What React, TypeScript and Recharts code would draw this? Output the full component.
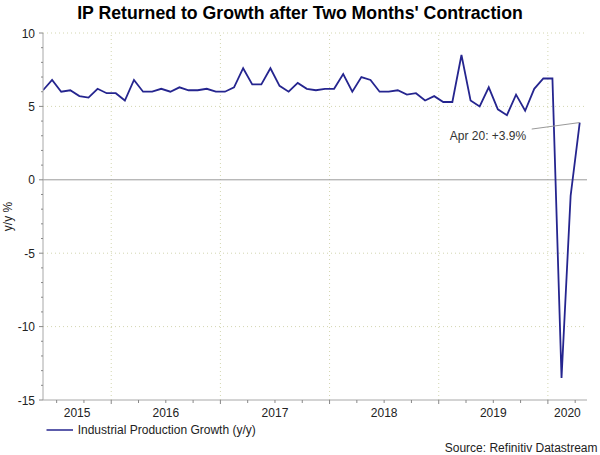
import React from 'react';
import { LineChart, Line, XAxis, YAxis, ReferenceLine, ReferenceDot } from 'recharts';

const FONT = '"Liberation Sans", Arial, sans-serif';
const LINE_COLOR = '#25258f';
const GRID_COLOR = '#d3d6b0';
const AXIS_COLOR = '#a8a8a8';

// China industrial production, y/y %, monthly from May 2015 to Apr 2020
const firstYear = 2015;
const firstMonth = 5;
const growth = [
  6.1, 6.8, 6.0, 6.1, 5.7, 5.6, 6.2, 5.9,
  5.9, 5.4, 6.8, 6.0, 6.0, 6.2, 6.0, 6.3, 6.1, 6.1, 6.2, 6.0,
  6.0, 6.3, 7.6, 6.5, 6.5, 7.6, 6.4, 6.0, 6.6, 6.2, 6.1, 6.2,
  6.2, 7.2, 6.0, 7.0, 6.8, 6.0, 6.0, 6.1, 5.8, 5.9, 5.4, 5.7,
  5.3, 5.3, 8.5, 5.4, 5.0, 6.3, 4.8, 4.4, 5.8, 4.7, 6.2, 6.9,
  6.9, -13.5, -1.1, 3.9,
];
const years = [2015, 2016, 2017, 2018, 2019, 2020];
const yTicks = [-15, -10, -5, 0, 5, 10];
const yMinor = [-15, -14, -13, -12, -11, -10, -9, -8, -7, -6, -5, -4, -3, -2, -1, 0, 1, 2, 3, 4, 5, 6, 7, 8, 9, 10];
const quarterMonths = [1, 4, 7, 10];
const lastLabel = 'Apr 20';

const data = growth.map((v, i) => ({ i, v }));
const xMax = 59.8;

const monthPos = (y: number, m: number) => 12 * (y - firstYear) + (m - firstMonth) - 0.5;

const quarterTicks: number[] = [];
years.forEach((y) =>
  quarterMonths.forEach((m) => {
    const p = monthPos(y, m);
    if (p > 0 && p < xMax) quarterTicks.push(p);
  })
);
const yearStarts = years.map((y) => monthPos(y, 1)).filter((p) => p > 0 && p < xMax);
const yearCenters = new Map<number, string>();
years.forEach((y) => {
  const a = Math.max(0, monthPos(y, 1));
  const b = Math.min(xMax, monthPos(y + 1, 1));
  yearCenters.set((a + b) / 2, String(y));
});
const xTicks = Array.from(new Set([...quarterTicks, ...Array.from(yearCenters.keys())])).sort((a, b) => a - b);

const XTick = (props: any) => {
  const { x, y, payload } = props;
  const label = yearCenters.get(payload.value);
  const isQuarter = quarterTicks.includes(payload.value);
  const major = yearStarts.includes(payload.value);
  return (
    <g>
      {isQuarter && <line x1={x} x2={x} y1={y} y2={y + (major ? 4 : 3)} stroke="#888" strokeWidth={1} />}
      {label && (
        <text x={x} y={y + 16.5} textAnchor="middle" fontSize={12} fontFamily={FONT} fill="#222">
          {label}
        </text>
      )}
    </g>
  );
};

const YTick = (props: any) => {
  const { x, y, payload } = props;
  const major = yTicks.includes(payload.value);
  return (
    <g>
      <line x1={x - (major ? 4 : 2)} x2={x} y1={y} y2={y} stroke="#888" strokeWidth={1} />
      {major && (
        <text x={x - 8} y={y + 4.5} textAnchor="end" fontSize={12} fontFamily={FONT} fill="#222">
          {payload.value}
        </text>
      )}
    </g>
  );
};

const YLabel = (props: any) => {
  const { viewBox } = props;
  if (!viewBox) return null;
  const cx = viewBox.x + 8;
  const cy = viewBox.y + viewBox.height / 2;
  return (
    <text
      x={cx}
      y={cy}
      transform={`rotate(-90 ${cx} ${cy})`}
      textAnchor="middle"
      dominantBaseline="central"
      fontSize={12}
      fontFamily={FONT}
      fill="#222"
    >
      y/y %
    </text>
  );
};

const lastIdx = growth.length - 1;
const lastVal = growth[lastIdx];

const Callout = (props: any) => {
  const { cx, cy } = props;
  if (typeof cx !== 'number' || typeof cy !== 'number') return null;
  return (
    <g>
      <line x1={cx - 48} y1={cy + 6.5} x2={cx} y2={cy} stroke="#999" strokeWidth={1} />
      <text x={cx - 53.5} y={cy + 17} textAnchor="end" fontSize={12} fontFamily={FONT} fill="#333">
        {`${lastLabel}: ${lastVal >= 0 ? '+' : ''}${lastVal.toFixed(1)}%`}
      </text>
    </g>
  );
};

export default function App() {
  return (
    <div style={{ position: 'absolute', left: 0, top: 0, width: 600, height: 455, background: '#fff', fontFamily: FONT }}>
      <LineChart width={600} height={455} data={data} margin={{ top: 33, right: 13, bottom: 0, left: 0 }}>
        <XAxis
          type="number"
          dataKey="i"
          domain={[0, xMax]}
          ticks={xTicks}
          interval={0}
          tick={<XTick />}
          tickLine={false}
          tickSize={0}
          tickMargin={0}
          height={55}
          stroke={AXIS_COLOR}
          allowDataOverflow
        />
        <YAxis
          type="number"
          domain={[-15, 10]}
          ticks={yMinor}
          interval={0}
          tick={<YTick />}
          tickLine={false}
          tickSize={0}
          tickMargin={0}
          width={43}
          stroke={AXIS_COLOR}
          label={<YLabel />}
        />
        {yTicks
          .filter((t) => t !== 0 && t !== -15)
          .map((t) => (
            <ReferenceLine key={`h${t}`} y={t} stroke={GRID_COLOR} strokeDasharray="1 3" />
          ))}
        {yearStarts.map((p) => (
          <ReferenceLine key={`v${p}`} x={p} stroke={GRID_COLOR} strokeDasharray="1 3" />
        ))}
        <ReferenceLine y={0} stroke="#9a9a9a" strokeWidth={1} />
        <Line
          type="linear"
          dataKey="v"
          stroke={LINE_COLOR}
          strokeWidth={1.8}
          dot={false}
          activeDot={false}
          isAnimationActive={false}
        />
        <ReferenceDot x={lastIdx} y={lastVal} r={0} shape={<Callout />} />
      </LineChart>
      <div
        style={{
          position: 'absolute',
          left: 0,
          top: 3,
          width: 600,
          textAlign: 'center',
          fontWeight: 'bold',
          fontSize: 17.7,
          lineHeight: '20px',
          color: '#000',
        }}
      >
        IP Returned to Growth after Two Months' Contraction
      </div>
      <svg width={600} height={455} style={{ position: 'absolute', left: 0, top: 0, pointerEvents: 'none' }}>
        <line x1={46.5} x2={73} y1={430} y2={430} stroke="#5c5cab" strokeWidth={2} />
        <text x={77.7} y={434.3} fontSize={12} fontFamily={FONT} fill="#222">
          Industrial Production Growth (y/y)
        </text>
        <text x={597.5} y={451.5} textAnchor="end" fontSize={12} fontFamily={FONT} fill="#222">
          Source: Refinitiv Datastream
        </text>
      </svg>
    </div>
  );
}
